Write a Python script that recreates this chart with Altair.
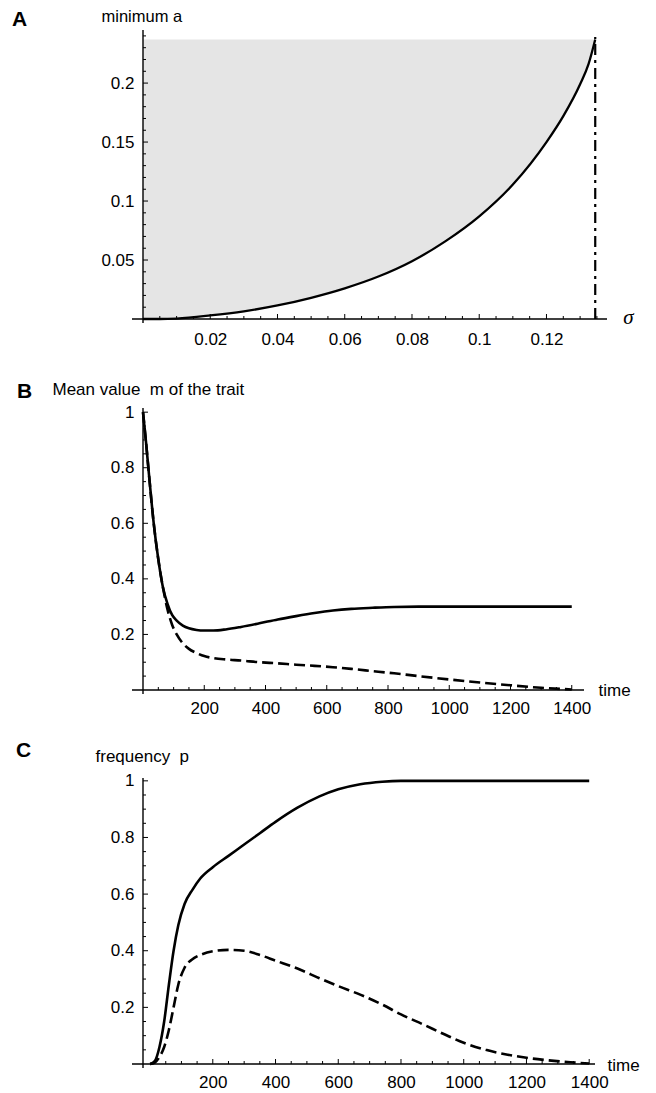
import altair as alt
import pandas as pd
import numpy as np

SANS = "Liberation Sans"
SERIF = "Liberation Serif"

# ---------------- Panel A data ----------------
a_sigma = [0, 0.005, 0.01, 0.02, 0.03, 0.04, 0.05, 0.06, 0.07, 0.08, 0.09, 0.10, 0.11, 0.12, 0.125, 0.13, 0.1325, 0.1345]
a_min = [0, 0.0, 0.0004, 0.003, 0.0065, 0.0115, 0.018, 0.026, 0.036, 0.049, 0.066, 0.087, 0.114, 0.150, 0.172, 0.199, 0.216, 0.237]
a_sigma_max = 0.1345
a_top = 0.237
a_xmajor = [0.02, 0.04, 0.06, 0.08, 0.10, 0.12]
a_ymajor = [0.05, 0.10, 0.15, 0.20]

# ---------------- Panel B data ----------------
b_time = [0, 10, 20, 35, 50, 65, 80, 95, 110, 130, 150, 175, 200, 230, 270, 320, 380, 440, 500,
          560, 620, 680, 750, 820, 900, 1000, 1100, 1200, 1300, 1400]
b_solid = [1.0, 0.89, 0.77, 0.60, 0.47, 0.37, 0.31, 0.27, 0.25, 0.232, 0.222, 0.216, 0.214, 0.214,
           0.218, 0.227, 0.240, 0.254, 0.266, 0.277, 0.286, 0.292, 0.296, 0.299, 0.300, 0.300,
           0.300, 0.300, 0.300, 0.300]
b_dashed = [1.0, 0.89, 0.77, 0.60, 0.47, 0.37, 0.29, 0.235, 0.20, 0.168, 0.148, 0.133, 0.122, 0.115,
            0.110, 0.106, 0.100, 0.096, 0.091, 0.087, 0.082, 0.076, 0.068, 0.060, 0.050, 0.038,
            0.027, 0.017, 0.008, 0.002]
b_xmajor = [200, 400, 600, 800, 1000, 1200, 1400]
b_ymajor = [0.2, 0.4, 0.6, 0.8, 1.0]

# ---------------- Panel C data ----------------
c_time = [0, 15, 30, 45, 60, 75, 90, 110, 135, 160, 200, 250, 300, 350, 400, 470, 540, 600, 670,
          740, 800, 870, 940, 1000, 1070, 1140, 1200, 1270, 1340, 1400]
c_solid = [0.0, 0.01, 0.06, 0.15, 0.28, 0.40, 0.49, 0.565, 0.615, 0.655, 0.695, 0.735, 0.775, 0.815,
           0.855, 0.905, 0.945, 0.97, 0.988, 0.997, 1.0, 1.0, 1.0, 1.0, 1.0, 1.0, 1.0, 1.0, 1.0, 1.0]
c_dashed = [0.0, 0.005, 0.025, 0.06, 0.12, 0.20, 0.28, 0.34, 0.37, 0.385, 0.398, 0.403, 0.400,
            0.385, 0.365, 0.337, 0.303, 0.275, 0.245, 0.210, 0.175, 0.140, 0.104, 0.075, 0.050,
            0.033, 0.022, 0.013, 0.006, 0.002]
c_xmajor = [200, 400, 600, 800, 1000, 1200, 1400]
c_ymajor = [0.2, 0.4, 0.6, 0.8, 1.0]
c_axis_origin = -22.5   # the vertical axis of panel C sits slightly left of t = 0


def ticks_df(major, step, lo, hi):
    minor = [round(v, 6) for v in np.arange(step, hi + 1e-9, step)
             if all(abs(v - m) > step / 10 for m in major) and v > lo]
    return (pd.DataFrame({"v": major}), pd.DataFrame({"v": minor}))


def panel(letter, letter_x, letter_y, ytitle, ytitle_x, ytitle_y, ytitle_size,
          xtitle, xtitle_x, xtitle_y, xtitle_font, xtitle_style, xtitle_size, xtitle_align,
          W, H, xdom, ydom, xmajor, xstep, ymajor, ystep, xfmt, xlabpad, layers, x0=0.0):
    xs = alt.Scale(domain=xdom, nice=False, zero=False)
    ys = alt.Scale(domain=ydom, nice=False, zero=False)

    xaxis = alt.Axis(values=xmajor, format=xfmt, ticks=False, domain=False, grid=False,
                     labelPadding=xlabpad, labelFontSize=17, labelFont=SANS, labelColor="black",
                     title=xtitle, titleX=xtitle_x, titleY=xtitle_y, titleAngle=0,
                     titleAlign=xtitle_align, titleBaseline="middle", titleFont=xtitle_font,
                     titleFontStyle=xtitle_style, titleFontWeight="normal",
                     titleFontSize=xtitle_size, titleColor="black", labelFlush=False,
                     labelOverlap=False)
    yaxis = alt.Axis(values=ymajor, format="~g", ticks=False, domain=False, grid=False,
                     labelPadding=9, labelFontSize=17, labelFont=SANS, labelColor="black",
                     title=ytitle, titleX=ytitle_x, titleY=ytitle_y, titleAngle=0,
                     titleAlign="left", titleBaseline="middle", titleFont=SANS,
                     titleFontWeight="normal", titleFontSize=ytitle_size, titleColor="black",
                     labelFlush=False, labelOverlap=False)

    charts = [lay(xs, ys, xaxis, yaxis) for lay in layers]

    # axis lines
    axis_df = pd.DataFrame({"ox": [x0], "oy": [0.0]})
    xline = alt.Chart(axis_df).mark_rule(color="black", strokeWidth=1.4).encode(
        x=alt.value(-11), x2=alt.value(W),
        y=alt.Y("oy:Q", scale=ys, axis=yaxis))
    yline = alt.Chart(axis_df).mark_rule(color="black", strokeWidth=1.4).encode(
        x=alt.X("ox:Q", scale=xs, axis=xaxis),
        y=alt.value(H + 4), y2=alt.value(0))

    # inward ticks
    xmaj, xmin = ticks_df(xmajor, xstep, xdom[0], xdom[1])
    ymaj, ymin = ticks_df(ymajor, ystep, ydom[0], ydom[1])
    for d in (xmaj, xmin, ymaj, ymin):
        d["oy"] = 0.0
        d["ox"] = x0
    tick_layers = []
    for df, ln in ((xmaj, 5), (xmin, 3)):
        tick_layers.append(alt.Chart(df).mark_rule(color="black", strokeWidth=1, y2Offset=-ln).encode(
            x=alt.X("v:Q", scale=xs, axis=xaxis),
            y=alt.Y("oy:Q", scale=ys, axis=yaxis), y2="oy:Q"))
    for df, ln in ((ymaj, 5), (ymin, 3)):
        tick_layers.append(alt.Chart(df).mark_rule(color="black", strokeWidth=1, x2Offset=ln).encode(
            y=alt.Y("v:Q", scale=ys, axis=yaxis),
            x=alt.X("ox:Q", scale=xs, axis=xaxis), x2="ox:Q"))

    letter_mark = alt.Chart(pd.DataFrame({"t": [letter]})).mark_text(
        font=SANS, fontSize=21, fontWeight="bold", align="left", baseline="middle", color="black"
    ).encode(text="t:N", x=alt.value(letter_x), y=alt.value(letter_y))

    return alt.layer(*charts, xline, yline, *tick_layers, letter_mark).properties(width=W, height=H)


# ---------------- Panel A ----------------
dfA = pd.DataFrame({"sigma": a_sigma, "a": a_min, "top": a_top})
dfA_rule = pd.DataFrame({"sigma": [a_sigma_max], "a": [0.0], "top": [a_top + 0.002]})


def a_area(xs, ys, xa, ya):
    return alt.Chart(dfA).mark_area(color="#e5e5e5", interpolate="monotone").encode(
        x=alt.X("sigma:Q", scale=xs, axis=xa),
        y=alt.Y("a:Q", scale=ys, axis=ya),
        y2="top:Q")


def a_line(xs, ys, xa, ya):
    return alt.Chart(dfA).mark_line(color="black", strokeWidth=2.3, interpolate="monotone").encode(
        x=alt.X("sigma:Q", scale=xs, axis=xa),
        y=alt.Y("a:Q", scale=ys, axis=ya))


def a_rule(xs, ys, xa, ya):
    return alt.Chart(dfA_rule).mark_rule(color="black", strokeWidth=2.2, strokeDash=[11, 5, 3, 5]).encode(
        x=alt.X("sigma:Q", scale=xs, axis=xa),
        y=alt.Y("a:Q", scale=ys, axis=ya),
        y2="top:Q")


chartA = panel("A", -131, -10, "minimum a", -42, -14, 16.5,
               "σ", 485, -2, SERIF, "italic", 21, "center",
               464, 289, [0, 0.138], [0, 0.245], a_xmajor, 0.005, a_ymajor, 0.01, "~g", 12,
               [a_area, a_line, a_rule])

# ---------------- Panel B ----------------
dfB = pd.DataFrame({"t": b_time, "solid": b_solid, "dashed": b_dashed})


def b_solid_l(xs, ys, xa, ya):
    return alt.Chart(dfB).mark_line(color="black", strokeWidth=2.6, interpolate="monotone").encode(
        x=alt.X("t:Q", scale=xs, axis=xa), y=alt.Y("solid:Q", scale=ys, axis=ya))


def b_dashed_l(xs, ys, xa, ya):
    return alt.Chart(dfB).mark_line(color="black", strokeWidth=2.6, strokeDash=[11, 5],
                                    interpolate="monotone").encode(
        x=alt.X("t:Q", scale=xs, axis=xa), y=alt.Y("dashed:Q", scale=ys, axis=ya))


chartB = panel("B", -126, -16, "Mean value\u00a0\u00a0m of the trait", -91, -19, 17,
               "time", 455, 0, SANS, "normal", 17, "left",
               441, 282, [0, 1440], [0, 1.015], b_xmajor, 50, b_ymajor, 0.05, "d", 10,
               [b_dashed_l, b_solid_l])

# ---------------- Panel C ----------------
dfC = pd.DataFrame({"t": c_time, "solid": c_solid, "dashed": c_dashed})


def c_solid_l(xs, ys, xa, ya):
    return alt.Chart(dfC).mark_line(color="black", strokeWidth=2.6, interpolate="monotone").encode(
        x=alt.X("t:Q", scale=xs, axis=xa), y=alt.Y("solid:Q", scale=ys, axis=ya))


def c_dashed_l(xs, ys, xa, ya):
    return alt.Chart(dfC).mark_line(color="black", strokeWidth=2.6, strokeDash=[11, 5],
                                    interpolate="monotone").encode(
        x=alt.X("t:Q", scale=xs, axis=xa), y=alt.Y("dashed:Q", scale=ys, axis=ya))


chartC = panel("C", -127, -27, "frequency\u00a0\u00a0p", -48, -22, 17,
               "time", 464, 1, SANS, "normal", 17, "left",
               452, 286, [c_axis_origin, 1418.5], [0, 1.01], c_xmajor, 50, c_ymajor, 0.05, "d", 10,
               [c_dashed_l, c_solid_l], x0=c_axis_origin)

chart = alt.vconcat(chartA, alt.vconcat(chartB, chartC, spacing=24), spacing=33).properties(
    padding={"left": 4, "top": 0, "right": 5, "bottom": 5}
).configure(font=SANS).configure_view(stroke=None)

chart.save("out.html", embed_options={"renderer": "svg", "actions": False})
